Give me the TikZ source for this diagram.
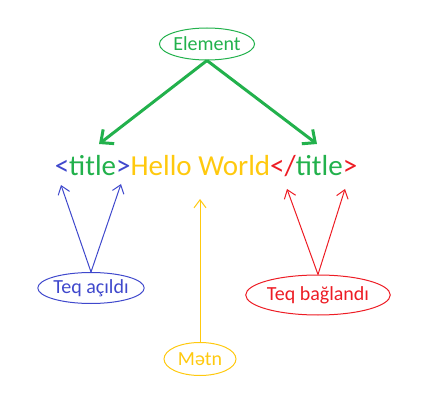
\documentclass[tikz,border=0pt]{standalone}
\usepackage{fontspec}
\setmainfont{Carlito}
\usetikzlibrary{shapes.geometric,arrows.meta}
\definecolor{pgreen}{RGB}{34,177,76}
\definecolor{pblue}{RGB}{63,72,204}
\definecolor{pyellow}{RGB}{255,201,14}
\definecolor{pred}{RGB}{237,28,36}

\begin{document}
\begin{tikzpicture}[x=1pt,y=-1pt,
    oval/.style={draw,ellipse,inner sep=0pt,line width=1pt,font=\fontsize{20}{20}\selectfont},
    thinarrow/.style={-{Straight Barb[length=8pt,width=12pt]},line width=1pt},
    thickarrow/.style={-{Straight Barb[length=10pt,width=18pt]},line width=3pt}]
  \useasboundingbox (0,0) rectangle (424,412);
  % the tag line
  \node[inner sep=0pt,anchor=base,font=\fontsize{29}{29}\selectfont] (tag) at (206,176)
    {\textcolor{pblue}{<}\textcolor{pgreen}{title}\textcolor{pblue}{>}\textcolor{pyellow}{Hello World}\textcolor{pred}{</}\textcolor{pgreen}{title}\textcolor{pred}{>}};
  \coordinate (tagL) at (99,144);
  \coordinate (tagR) at (317,144);
  \coordinate (openL) at (61,185);
  \coordinate (openR) at (121,184);
  \coordinate (closeL) at (287,189);
  \coordinate (closeR) at (345,189);
  \coordinate (body) at (200,199);
  % labels
  \node[oval,pgreen,minimum width=94pt,minimum height=32pt] (element) at (207,44) {Element};
  \node[oval,pblue,minimum width=101pt,minimum height=31pt] (open) at (91,288) {Teq açıldı};
  \node[oval,pred,minimum width=129pt,minimum height=40pt] (close) at (318,295) {Teq bağlandı};
  \node[oval,pyellow,minimum width=72pt,minimum height=33pt] (metn) at (200,359) {Mətn};
  % arrows
  \draw[thickarrow,pgreen] (element.south) -- (tagL);
  \draw[thickarrow,pgreen] (element.south) -- (tagR);
  \draw[thinarrow,pblue] (open.north) -- (openL);
  \draw[thinarrow,pblue] (open.north) -- (openR);
  \draw[thinarrow,pred] (close.north) -- (closeL);
  \draw[thinarrow,pred] (close.north) -- (closeR);
  \draw[thinarrow,pyellow] (metn.north) -- (body);
\end{tikzpicture}
\end{document}
